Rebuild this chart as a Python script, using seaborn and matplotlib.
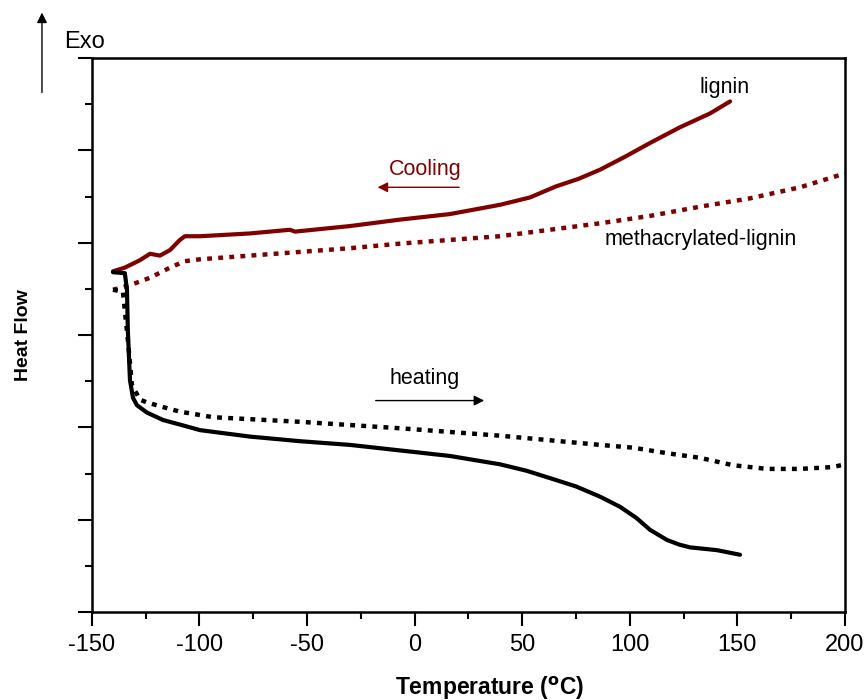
import numpy as np
import pandas as pd
import matplotlib.pyplot as plt
import seaborn as sns
from matplotlib.ticker import MultipleLocator

sns.set_theme(style="white")
plt.rcParams['font.family'] = ['Liberation Sans', 'DejaVu Sans']
plt.rcParams['text.color'] = 'black'
plt.rcParams['xtick.color'] = 'black'
plt.rcParams['ytick.color'] = 'black'

DARK_RED = '#800000'

# DSC traces (temperature in degC, heat flow in arbitrary units)
lignin_cool_T = [-140.2, -134.7, -127.7, -123.0, -118.4, -113.7, -109.1, -106.8, -99.8, -76.6,
                 -58.0, -55.6, -30.1, -6.8, 16.4, 39.6, 53.6, 65.7, 76.0, 86.1, 97.7, 109.4,
                 123.3, 137.3, 146.6]
lignin_cool_H = [3.69, 3.73, 3.81, 3.88, 3.86, 3.92, 4.03, 4.07, 4.07, 4.10,
                 4.14, 4.12, 4.18, 4.25, 4.31, 4.41, 4.49, 4.61, 4.69, 4.79, 4.93, 5.08,
                 5.25, 5.40, 5.53]

meth_cool_T = [-140.2, -132.3, -123.0, -113.7, -106.8, -99.8, -76.6, -53.3, -30.1, -6.8,
               16.4, 39.6, 62.9, 86.1, 109.4, 132.6, 155.8, 179.1, 200.0]
meth_cool_H = [3.49, 3.54, 3.62, 3.73, 3.80, 3.82, 3.86, 3.90, 3.94, 3.99,
               4.03, 4.07, 4.14, 4.21, 4.29, 4.39, 4.48, 4.60, 4.75]

lignin_heat_T = [-140.2, -134.7, -133.7, -133.3, -132.3, -130.9, -129.1, -124.4, -117.0, -109.1,
                 -104.4, -99.8, -76.6, -53.3, -30.1, -6.8, 16.4, 39.6, 52.0, 62.9, 75.0, 86.1,
                 95.4, 103.0, 109.4, 117.3, 123.0, 128.0, 140.5, 151.2]
lignin_heat_H = [3.68, 3.67, 3.49, 3.05, 2.51, 2.32, 2.24, 2.16, 2.08, 2.03,
                 2.00, 1.97, 1.90, 1.85, 1.81, 1.75, 1.69, 1.60, 1.53, 1.45, 1.36, 1.25,
                 1.14, 1.02, 0.89, 0.78, 0.73, 0.70, 0.67, 0.62]

meth_heat_T = [-140.2, -135.6, -133.3, -131.4, -127.7, -124.4, -117.0, -109.1, -93.8, -85.9,
               -53.3, -6.8, 39.6, 86.1, 101.5, 117.3, 132.6, 147.9, 163.7, 179.1, 194.4, 200.0]
meth_heat_H = [3.49, 3.47, 2.95, 2.46, 2.30, 2.27, 2.22, 2.17, 2.11, 2.10,
               2.06, 1.99, 1.91, 1.81, 1.78, 1.72, 1.67, 1.59, 1.55, 1.55, 1.57, 1.60]

x_ticks = [-150, -100, -50, 0, 50, 100, 150, 200]

fig = plt.figure(figsize=(8.67, 7.0), dpi=100)
ax = fig.add_axes([0.106, 0.1257, 0.8686, 0.7914])

# square dots, roughly 5 px on / 6 px off like the original
dotted = (0, (1.1, 1.4))
sns.lineplot(x=lignin_cool_T, y=lignin_cool_H, ax=ax, color=DARK_RED, lw=3,
             sort=False, estimator=None)
sns.lineplot(x=meth_cool_T, y=meth_cool_H, ax=ax, color=DARK_RED, lw=3.2,
             linestyle=dotted, dash_capstyle='butt', sort=False, estimator=None)
sns.lineplot(x=lignin_heat_T, y=lignin_heat_H, ax=ax, color='black', lw=3,
             sort=False, estimator=None)
sns.lineplot(x=meth_heat_T, y=meth_heat_H, ax=ax, color='black', lw=3.2,
             linestyle=dotted, dash_capstyle='butt', sort=False, estimator=None)

ax.set_xlim(-150, 200)
ax.set_ylim(0, 6)
ax.set_xticks(x_ticks)
ax.set_xticklabels([str(t) for t in x_ticks], fontsize=17, color='black')
ax.xaxis.set_minor_locator(MultipleLocator(25))
ax.yaxis.set_major_locator(MultipleLocator(1))
ax.yaxis.set_minor_locator(MultipleLocator(0.5))
ax.set_yticklabels([])
ax.tick_params(axis='both', which='major', direction='out', length=10, width=1.5,
               color='black', bottom=True, left=True, pad=6)
ax.tick_params(axis='both', which='minor', direction='out', length=5, width=1.5,
               color='black', bottom=True, left=True)
for s in ax.spines.values():
    s.set_color('black')
    s.set_linewidth(1.8)
ax.set_xlabel('')
ax.set_ylabel('')

# annotations
ax.text(144.2, 5.68, 'lignin', fontsize=15.5, ha='center', va='center', color='black')
ax.text(133, 4.03, 'methacrylated-lignin', fontsize=15.5, ha='center', va='center',
        color='black')
ax.text(4.8, 4.79, 'Cooling', fontsize=15.5, ha='center', va='center', color=DARK_RED)
ax.text(4.8, 2.53, 'heating', fontsize=15.5, ha='center', va='center', color='black')
ax.annotate('', xy=(-18.5, 4.60), xytext=(22, 4.60),
            arrowprops=dict(arrowstyle='-|>', color=DARK_RED, lw=1, mutation_scale=15))
ax.annotate('', xy=(33.6, 2.29), xytext=(-19.4, 2.29),
            arrowprops=dict(arrowstyle='-|>', color='black', lw=1, mutation_scale=15))

# Exo arrow and labels in figure coordinates
fig.patches.append(plt.matplotlib.patches.FancyArrowPatch(
    (0.0484, 0.864), (0.0484, 0.986), transform=fig.transFigure,
    arrowstyle='-|>', color='black', lw=1, mutation_scale=15))
fig.text(0.0738, 0.94, 'Exo', fontsize=17, ha='left', va='center', color='black')
fig.text(0.027, 0.521, 'Heat Flow', fontsize=14, fontweight='bold', rotation=90,
         ha='center', va='center', color='black')
fig.text(0.565, 0.017, r'Temperature ($^{\mathbf{o}}$C)', fontsize=16.5, fontweight='bold',
         ha='center', va='center', color='black')

fig.savefig('out.png', dpi=100)
